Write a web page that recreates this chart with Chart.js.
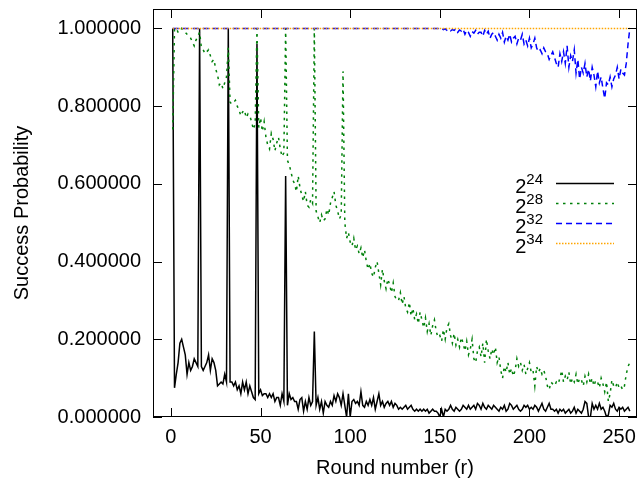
<!DOCTYPE html>
<html>
<head>
<meta charset="utf-8">
<script src="https://cdn.jsdelivr.net/npm/chart.js@4"></script>
<style>
  body { margin: 0; background: #fff; }
  #wrap { width: 641px; height: 484px; }
</style>
</head>
<body>
<div id="wrap"><canvas id="chart" width="641" height="484"></canvas></div>
<script>
// tick labels
const xTicks = [0, 50, 100, 150, 200, 250];
const yTicks = [0, 0.2, 0.4, 0.6, 0.8, 1.0];

// legend: base 2 with exponent
const seriesBase = "2";
const seriesExp = ["24", "28", "32", "34"];

// success probability per round, r = 1..256
const p24 = [
  1.0,0.075,0.11,0.14,0.19,0.20,0.18,0.16,0.11,0.14,0.12,0.13,0.15,0.14,0.13,1.0,
  0.13,0.12,0.13,0.14,0.16,0.12,0.15,0.14,0.12,0.08,0.085,0.09,0.085,0.11,0.09,1.0,
  0.09,0.09,0.08,0.09,0.07,0.08,0.06,0.09,0.07,0.09,0.06,0.08,0.065,0.05,0.045,0.96,
  0.06,0.07,0.055,0.06,0.06,0.05,0.06,0.05,0.06,0.04,0.05,0.05,0.03,0.06,0.04,0.62,
  0.03,0.06,0.045,0.05,0.04,0.04,0.02,0.045,0.05,0.015,0.04,0.02,0.05,0.03,0.04,0.22,
  0.03,0.05,0.02,0.04,0.01,0.04,0.03,0.025,0.04,0.03,0.055,0.04,0.06,0.05,0.03,0.06,
  0.03,0.0,0.06,0.0,0.04,0.045,0.035,0.04,0.03,0.065,0.03,0.025,0.04,0.03,0.045,0.03,
  0.05,0.02,0.04,0.06,0.03,0.04,0.025,0.035,0.04,0.03,0.04,0.025,0.035,0.03,0.02,0.025,
  0.02,0.025,0.03,0.02,0.025,0.03,0.02,0.015,0.02,0.015,0.02,0.015,0.02,0.015,0.02,0.01,
  0.015,0.02,0.015,0.015,0.01,0.0,0.02,0.0,0.02,0.015,0.02,0.03,0.02,0.015,0.025,0.02,
  0.015,0.02,0.03,0.025,0.02,0.03,0.02,0.025,0.03,0.02,0.035,0.03,0.02,0.035,0.025,0.02,
  0.03,0.025,0.02,0.03,0.025,0.02,0.015,0.025,0.02,0.03,0.015,0.02,0.035,0.03,0.02,0.025,
  0.03,0.02,0.015,0.02,0.03,0.025,0.03,0.02,0.025,0.02,0.03,0.025,0.015,0.025,0.035,0.02,
  0.015,0.025,0.035,0.02,0.02,0.015,0.02,0.01,0.02,0.015,0.02,0.01,0.015,0.02,0.01,0.015,
  0.025,0.01,0.02,0.015,0.01,0.02,0.04,0.035,0.0,0.0,0.035,0.02,0.03,0.02,0.035,0.02,
  0.025,0.015,0.0,0.005,0.03,0.025,0.035,0.02,0.015,0.025,0.02,0.025,0.015,0.02,0.025,0.015
];
const p28 = [
  0.74,1.0,1.0,0.99,0.99,1.0,0.995,0.99,0.985,0.98,0.975,0.965,0.955,0.97,0.98,0.99,
  0.95,0.945,0.935,0.94,0.945,0.93,0.915,0.92,0.895,0.88,0.855,0.86,0.845,0.86,0.875,0.95,
  0.81,0.805,0.81,0.815,0.80,0.79,0.775,0.785,0.79,0.77,0.78,0.775,0.76,0.74,0.755,1.0,
  0.745,0.77,0.735,0.76,0.72,0.70,0.69,0.73,0.715,0.685,0.705,0.72,0.69,0.67,0.68,1.0,
  0.66,0.65,0.63,0.61,0.60,0.58,0.62,0.59,0.57,0.555,0.58,0.545,0.54,0.56,0.55,1.0,
  0.53,0.515,0.50,0.52,0.505,0.51,0.535,0.52,0.55,0.565,0.58,0.545,0.53,0.51,0.52,0.89,
  0.50,0.46,0.475,0.45,0.44,0.46,0.43,0.44,0.42,0.435,0.41,0.43,0.40,0.38,0.395,0.37,
  0.36,0.385,0.40,0.37,0.34,0.38,0.35,0.33,0.355,0.34,0.32,0.345,0.31,0.30,0.30,0.32,
  0.29,0.31,0.28,0.27,0.295,0.26,0.28,0.25,0.265,0.24,0.27,0.25,0.23,0.255,0.22,0.24,
  0.21,0.235,0.25,0.22,0.205,0.21,0.195,0.225,0.20,0.23,0.24,0.21,0.19,0.215,0.185,0.20,
  0.18,0.205,0.19,0.17,0.195,0.16,0.175,0.20,0.15,0.14,0.17,0.18,0.155,0.19,0.14,0.20,
  0.17,0.15,0.175,0.16,0.18,0.14,0.155,0.12,0.10,0.13,0.115,0.14,0.11,0.125,0.105,0.12,
  0.15,0.13,0.14,0.12,0.135,0.11,0.125,0.14,0.115,0.12,0.08,0.13,0.115,0.125,0.11,0.12,
  0.105,0.08,0.07,0.09,0.085,0.08,0.09,0.085,0.10,0.12,0.09,0.105,0.095,0.115,0.085,0.10,
  0.09,0.11,0.085,0.10,0.095,0.08,0.105,0.09,0.11,0.085,0.10,0.08,0.095,0.09,0.075,0.10,
  0.085,0.065,0.09,0.04,0.06,0.095,0.08,0.075,0.09,0.075,0.08,0.07,0.08,0.11,0.13,0.14
];
const p32 = [
  1,1,1,1,1,1,1,1,1,1,1,1,1,1,1,1,1,1,1,1,1,1,1,1,1,1,1,1,1,1,1,1,
  1,1,1,1,1,1,1,1,1,1,1,1,1,1,1,1,1,1,1,1,1,1,1,1,1,1,1,1,1,1,1,1,
  1,1,1,1,1,1,1,1,1,1,1,1,1,1,1,1,1,1,1,1,1,1,1,1,1,1,1,1,1,1,1,1,
  1,1,1,1,1,1,1,1,1,1,1,1,1,1,1,1,1,1,1,1,1,1,1,1,1,1,1,1,1,1,1,1,
  1,1,1,1,1,1,1,1,1,1,1,1,1,1,1,1,1,1,1,1,1,
  0.998,1.0,0.997,0.999,0.995,0.998,0.994,0.997,0.995,0.999,0.99,0.996,0.993,0.998,0.985,0.995,
  0.99,0.98,0.992,0.988,0.995,0.985,0.99,0.99,0.98,0.995,0.985,0.993,0.975,0.985,0.99,0.98,
  0.97,0.985,0.975,0.99,0.965,0.98,0.97,0.985,0.965,0.975,0.98,0.96,0.975,0.97,0.985,0.96,
  0.97,0.955,0.975,0.95,0.96,0.975,0.95,0.94,0.945,0.935,0.95,0.94,0.935,0.92,0.93,0.94,
  0.925,0.91,0.90,0.935,0.915,0.94,0.91,0.955,0.90,0.93,0.915,0.945,0.885,0.92,0.87,0.90,
  0.885,0.91,0.875,0.895,0.865,0.90,0.88,0.85,0.89,0.86,0.875,0.845,0.82,0.86,0.855,0.875,
  0.85,0.87,0.88,0.90,0.87,0.895,0.885,0.88,0.91,0.96,1.0
];
const p34 = [
  1,1,1,1,1,1,1,1,1,1,1,1,1,1,1,1,1,1,1,1,1,1,1,1,1,1,1,1,1,1,1,1,
  1,1,1,1,1,1,1,1,1,1,1,1,1,1,1,1,1,1,1,1,1,1,1,1,1,1,1,1,1,1,1,1,
  1,1,1,1,1,1,1,1,1,1,1,1,1,1,1,1,1,1,1,1,1,1,1,1,1,1,1,1,1,1,1,1,
  1,1,1,1,1,1,1,1,1,1,1,1,1,1,1,1,1,1,1,1,1,1,1,1,1,1,1,1,1,1,1,1,
  1,1,1,1,1,1,1,1,1,1,1,1,1,1,1,1,1,1,1,1,1,1,1,1,1,1,1,1,1,1,1,1,
  1,1,1,1,1,1,1,1,1,1,1,1,1,1,1,1,1,1,1,1,1,1,1,1,1,1,1,1,1,1,1,1,
  1,1,1,1,1,1,1,1,1,1,1,1,1,1,1,1,1,1,1,1,1,1,1,1,1,1,1,1,1,1,1,1,
  1,1,1,1,1,1,1,1,1,1,1,1,1,1,1,1,1,1,1,1,1,1,1,1,1,1,1,1,1,1,1,1
];

const FONT = "'Liberation Sans', Arial, sans-serif";
const toPoints = arr => arr.map((v, i) => ({ x: i + 1, y: v }));

const styles = [
  { color: "#000000", dash: [], width: 1.5 },
  { color: "#00800a", dash: [2.5, 4.5], width: 1.5 },
  { color: "#0000ff", dash: [6, 4], width: 1.5 },
  { color: "#ffa500", dash: [1.5, 1.5], width: 1.5 }
];

// box border, inward ticks and the gnuplot-like key
const frame = {
  id: "frame",
  afterDraw(chart) {
    const { ctx, chartArea: a, scales: { x, y } } = chart;
    ctx.save();
    ctx.strokeStyle = "#000";
    ctx.lineWidth = 1;
    ctx.setLineDash([]);
    ctx.strokeRect(a.left + 0.5, a.top + 0.5, a.right - a.left - 1, a.bottom - a.top - 1);
    const tl = 9;
    ctx.beginPath();
    xTicks.forEach(v => {
      const px = Math.round(x.getPixelForValue(v)) + 0.5;
      ctx.moveTo(px, a.bottom); ctx.lineTo(px, a.bottom - tl);
      ctx.moveTo(px, a.top); ctx.lineTo(px, a.top + tl);
    });
    yTicks.forEach(v => {
      const py = Math.round(y.getPixelForValue(v)) + 0.5;
      ctx.moveTo(a.left, py); ctx.lineTo(a.left + tl, py);
      ctx.moveTo(a.right, py); ctx.lineTo(a.right - tl, py);
    });
    ctx.stroke();

    // key
    const textRight = 543, lineL = 556, lineR = 614;
    const rowY = [183, 203, 223, 243];
    seriesExp.forEach((e, i) => {
      const ly = rowY[i];
      ctx.fillStyle = "#000";
      ctx.textAlign = "right";
      ctx.textBaseline = "alphabetic";
      ctx.font = "15px " + FONT;
      const w = ctx.measureText(e).width;
      ctx.fillText(e, textRight, ly + 1);
      ctx.font = "20px " + FONT;
      ctx.fillText(seriesBase, textRight - w, ly + 10);
      const s = styles[i];
      ctx.strokeStyle = s.color;
      ctx.lineWidth = s.width;
      ctx.setLineDash(s.dash);
      ctx.beginPath();
      ctx.moveTo(lineL, ly + 0.5);
      ctx.lineTo(lineR, ly + 0.5);
      ctx.stroke();
    });
    ctx.restore();
  }
};

const series = [p24, p28, p32, p34];
const datasets = series.map((arr, i) => ({
  label: seriesBase + "^" + seriesExp[i],
  data: toPoints(arr),
  borderColor: styles[i].color,
  borderDash: styles[i].dash,
  borderWidth: styles[i].width,
  pointRadius: 0,
  tension: 0,
  fill: false,
  order: 3 - i
}));

new Chart(document.getElementById("chart"), {
  type: "line",
  data: { datasets },
  plugins: [frame],
  options: {
    responsive: false,
    animation: false,
    layout: { padding: { top: 9, right: 4, left: 0, bottom: 0 } },
    plugins: { legend: { display: false }, tooltip: { enabled: false } },
    scales: {
      x: {
        type: "linear",
        min: -10,
        max: 260,
        afterBuildTicks: s => { s.ticks = xTicks.map(v => ({ value: v })); },
        afterFit: s => { s.height = 67; s.paddingLeft = 0; s.paddingRight = 0; },
        grid: { display: false, drawTicks: false },
        border: { display: false },
        ticks: { color: "#000", font: { family: FONT, size: 20 }, padding: 8, maxRotation: 0 },
        title: { display: true, text: "Round number (r)", color: "#000",
                 font: { family: FONT, size: 20 }, padding: { top: 0, bottom: 4 } }
      },
      y: {
        type: "linear",
        min: 0,
        max: 1.05,
        afterBuildTicks: s => { s.ticks = yTicks.map(v => ({ value: v })); },
        afterFit: s => { s.width = 153; s.paddingTop = 0; s.paddingBottom = 0; },
        grid: { display: false, drawTicks: false },
        border: { display: false },
        ticks: { color: "#000", font: { family: FONT, size: 20 }, padding: 12,
                 callback: v => Number(v).toFixed(6) },
        title: { display: true, text: "Success Probability", color: "#000",
                 font: { family: FONT, size: 20 }, padding: { top: 10, bottom: 0 } }
      }
    }
  }
});
</script>
</body>
</html>
